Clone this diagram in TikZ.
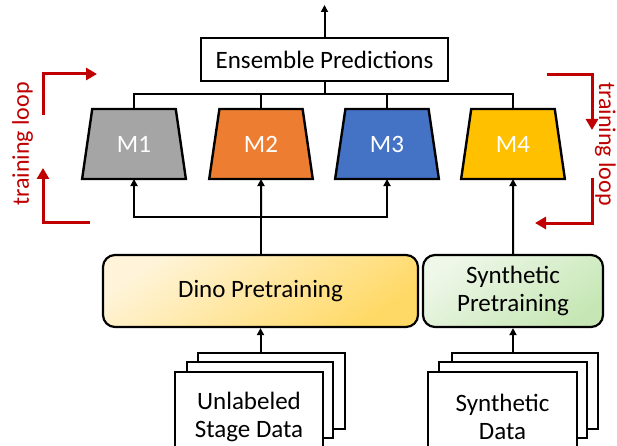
\documentclass[tikz,border=0pt]{standalone}
\usepackage{fontspec}
\setmainfont{Carlito}
\usetikzlibrary{arrows.meta,shapes.geometric}
\definecolor{loopred}{HTML}{C00000}
\definecolor{mgray}{HTML}{A5A5A5}
\definecolor{morange}{HTML}{ED7D31}
\definecolor{mblue}{HTML}{4472C4}
\definecolor{mgold}{HTML}{FFC000}
\definecolor{dinolight}{HTML}{FFF4D9}
\definecolor{dinodark}{HTML}{FFD966}
\definecolor{synlight}{HTML}{EEF7E8}
\definecolor{syndark}{HTML}{C6E7B5}
\tikzset{
  big/.style={font=\fontsize{25}{28}\selectfont},
  conn/.style={line width=2pt, black},
  arr/.style={conn, -{Triangle[length=7pt,width=7pt]}},
  model/.style={trapezium, trapezium angle=75.6, trapezium stretches=true,
    minimum width=104pt, minimum height=70pt, inner sep=0pt, outer sep=0pt,
    draw, line width=2.4pt, text=white, big},
  pretrain/.style={draw, line width=2.2pt, rounded corners=12pt, inner sep=0pt,
    minimum height=72pt, align=center, big},
  page/.style={draw, fill=white, line width=2.2pt, inner sep=0pt, outer sep=0pt},
  loopline/.style={line width=3pt, loopred, -{Triangle[length=11pt,width=12pt]}},
  looptext/.style={text=loopred, font=\fontsize{24}{28}\selectfont, inner sep=0pt, anchor=north},
}
\begin{document}
\begin{tikzpicture}[x=1pt,y=-1pt]
\useasboundingbox (0,0) rectangle (617,446);
\fill[white] (0,0) rectangle (617,446);

% output of the ensemble
\node[draw, line width=2pt, minimum width=247pt, minimum height=43pt, inner sep=0pt, big]
  (ens) at (324.5,59.5) {Ensemble Predictions};
\coordinate (out) at (324.5,5);
\draw[arr] (ens.north) -- (out);

% the four models
\node[model, fill=mgray]   (m1) at (134,144) {M1};
\node[model, fill=morange] (m2) at (261,144) {M2};
\node[model, fill=mblue]   (m3) at (387,144) {M3};
\node[model, fill=mgold]   (m4) at (513,144) {M4};

% collector bus above the models
\coordinate (topbus) at (324.5,94);
\draw[conn] (ens.south) -- (topbus);
\draw[conn] (m1.north) |- (topbus) -| (m4.north);
\draw[conn] (m2.north) -- (m2.north |- topbus);
\draw[conn] (m3.north) -- (m3.north |- topbus);

% pretraining blocks
\node[pretrain, minimum width=315pt, top color=dinolight, bottom color=dinodark, shading angle=35]
  (dino) at (260.5,291) {Dino Pretraining};
\node[pretrain, minimum width=180pt, top color=synlight, bottom color=syndark, shading angle=35]
  (syn) at (513,291) {Synthetic\\Pretraining};

% feature bus under the first three models
\coordinate (lowbus) at (261,217);
\draw[conn] (dino.north -| lowbus) -- (lowbus);
\draw[arr] (lowbus) -| (m1.south);
\draw[arr] (lowbus) -- (m2.south);
\draw[arr] (lowbus) -| (m3.south);
\draw[arr] (syn.north) -- (m4.south);

% stacked data sheets: unlabeled stage data
\node[page, minimum width=147pt, minimum height=76pt] (ub) at (271.5,391) {};
\node[page, minimum width=146pt, minimum height=76pt] (um) at (260,400) {};
\node[page, minimum width=148pt, minimum height=88pt] (uf) at (249,416) {};
\node[big, align=center, inner sep=1pt] (ut) at (249,417) {Unlabeled\\Stage Data};
\draw[arr] (ub.north -| dino.south) -- (dino.south);

% stacked data sheets: synthetic data
\node[page, minimum width=146pt, minimum height=76pt] (sb) at (525,391) {};
\node[page, minimum width=148pt, minimum height=76pt] (sm) at (513,400) {};
\node[page, minimum width=149pt, minimum height=88pt] (sf) at (502.5,416) {};
\node[big, align=center, inner sep=1pt] (st) at (502.5,417) {Synthetic\\Data};
\draw[arr] (sb.north -| syn.south) -- (syn.south);

% training loop, left side
\coordinate (la1) at (43,115);
\coordinate (la2) at (43,74);
\coordinate (la3) at (97,74);
\coordinate (lb1) at (90,222);
\coordinate (lb2) at (43,222);
\coordinate (lb3) at (43,168);
\draw[loopline] (la1) -- (la2) -- (la3);
\draw[loopline] (lb1) -- (lb2) -- (lb3);
\node[looptext, rotate=90] (ll) at (12,144) {training loop};

% training loop, right side
\coordinate (ra1) at (547,75);
\coordinate (ra2) at (592,75);
\coordinate (ra3) at (592,130);
\coordinate (rb1) at (592,178);
\coordinate (rb2) at (592,223);
\coordinate (rb3) at (535,223);
\draw[loopline] (ra1) -- (ra2) -- (ra3);
\draw[loopline] (rb1) -- (rb2) -- (rb3);
\node[looptext, rotate=-90] (rl) at (616,144) {training loop};
\end{tikzpicture}
\end{document}
